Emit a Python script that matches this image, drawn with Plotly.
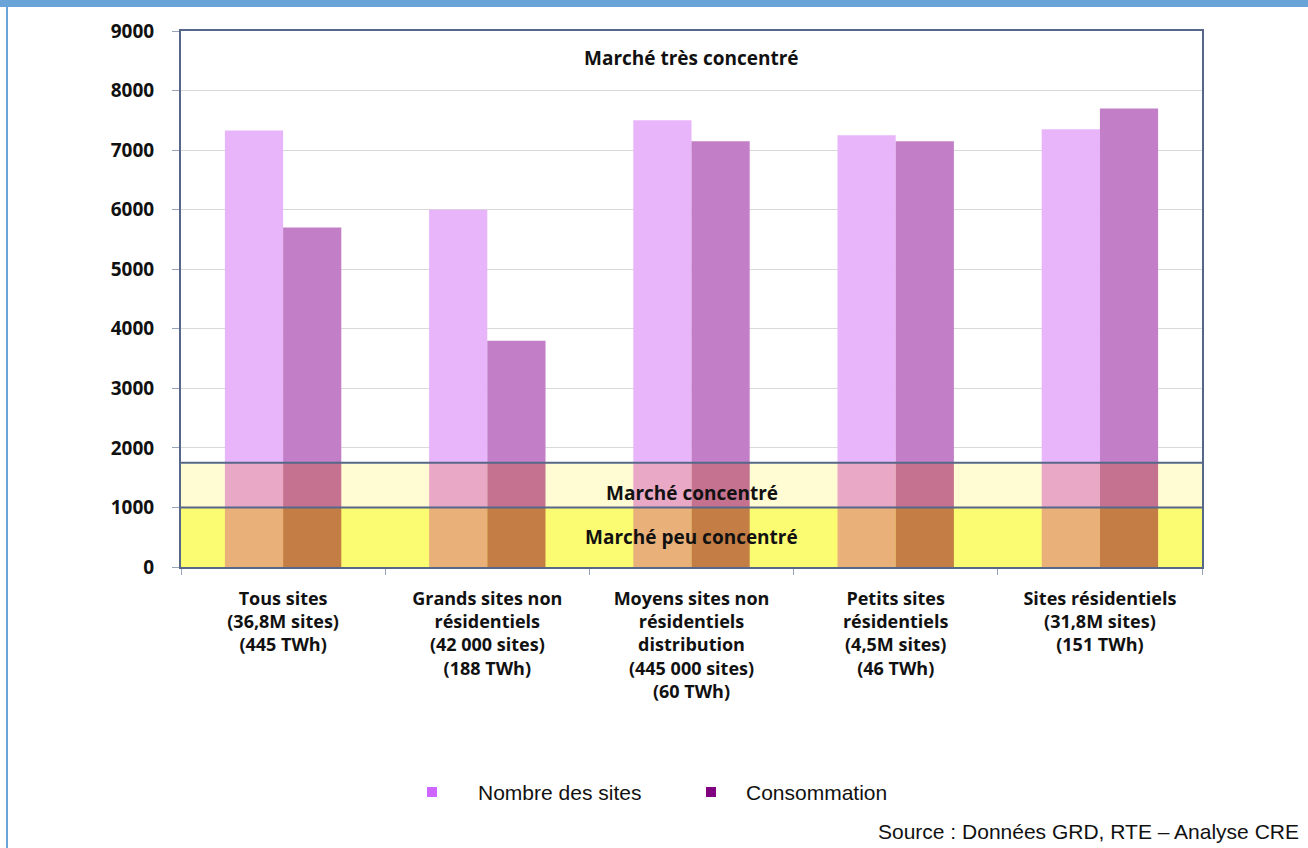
import plotly.graph_objects as go

# Segments de marché et indices HHI
categories = [
    "Tous sites<br>(36,8M sites)<br>(445 TWh)",
    "Grands sites non<br>résidentiels<br>(42 000 sites)<br>(188 TWh)",
    "Moyens sites non<br>résidentiels<br>distribution<br>(445 000 sites)<br>(60 TWh)",
    "Petits sites<br>résidentiels<br>(4,5M sites)<br>(46 TWh)",
    "Sites résidentiels<br>(31,8M sites)<br>(151 TWh)",
]
nombre_sites = [7330, 6000, 7500, 7250, 7350]
consommation = [5700, 3800, 7150, 7150, 7700]

# Seuils de concentration
seuil_peu = 1000
seuil_conc = 1750
y_ticks = [0, 1000, 2000, 3000, 4000, 5000, 6000, 7000, 8000, 9000]

FONT = "Open Sans"
TXT_FONT = "Liberation Sans"
AXIS_COL = "#56678a"

series = [
    ("Nombre des sites", nombre_sites, ["#e9b07a", "#e9a9c6", "#e8b4fa"], "#cc66ff"),
    ("Consommation", consommation, ["#c47e45", "#c47290", "#c27ec6"], "#800080"),
]

fig = go.Figure()

# Barres découpées selon les zones de concentration
for name, vals, cols, leg_col in series:
    low = [min(v, seuil_peu) for v in vals]
    mid = [max(min(v, seuil_conc) - seuil_peu, 0) for v in vals]
    top = [max(v - seuil_conc, 0) for v in vals]
    for seg, base, col in ((low, 0, cols[0]), (mid, seuil_peu, cols[1]), (top, seuil_conc, cols[2])):
        fig.add_trace(go.Bar(
            x=categories, y=seg, base=base, offsetgroup=name, name=name,
            marker=dict(color=col, line=dict(width=0)),
            showlegend=False, hoverinfo="skip",
        ))

# Zones de concentration
fig.add_shape(type="rect", xref="paper", yref="y", x0=0, x1=1, y0=0, y1=seuil_peu,
              fillcolor="#fcfc72", line=dict(width=0), layer="below")
fig.add_shape(type="rect", xref="paper", yref="y", x0=0, x1=1, y0=seuil_peu, y1=seuil_conc,
              fillcolor="#fffcd4", line=dict(width=0), layer="below")
for yv in (seuil_peu, seuil_conc):
    fig.add_shape(type="line", xref="paper", yref="y", x0=0, x1=1, y0=yv, y1=yv,
                  line=dict(color=AXIS_COL, width=2), layer="above")

# Bandeau bleu en haut et filet à gauche
fig.add_shape(type="rect", xref="paper", yref="paper", xsizemode="pixel", ysizemode="pixel",
              xanchor=0, yanchor=1, x0=-181, x1=1127, y0=24, y1=31,
              fillcolor="#6aa3d8", line=dict(width=0))
fig.add_shape(type="rect", xref="paper", yref="paper", xsizemode="pixel", ysizemode="pixel",
              xanchor=0, yanchor=1, x0=-175, x1=-173, y0=-820, y1=31,
              fillcolor="#6aa3d8", line=dict(width=0))

zone_font = dict(family=FONT, size=19, color="#111111", weight="bold")
for txt, yv in (("Marché très concentré", 8540), ("Marché concentré", 1240), ("Marché peu concentré", 500)):
    fig.add_annotation(text=txt, xref="paper", yref="y", x=0.5, y=yv,
                       showarrow=False, font=zone_font)

# Légende : carré de couleur puis libellé
txt_font = dict(family=TXT_FONT, size=21, color="#111111")
for (name, _, _, leg_col), (px_sq, px_txt) in zip(series, [(251, 295), (530, 563)]):
    fig.add_shape(type="rect", xref="paper", yref="paper", xsizemode="pixel", ysizemode="pixel",
                  xanchor=0, yanchor=0, x0=px_sq - 5, x1=px_sq + 5, y0=-230, y1=-220,
                  fillcolor=leg_col, line=dict(width=0))
    fig.add_annotation(text=name, xref="paper", yref="paper", x=px_txt / 1021, y=-225 / 536,
                       xanchor="left", yanchor="middle", showarrow=False, font=txt_font)

fig.add_annotation(text="Source : Données GRD, RTE – Analyse CRE", xref="paper", yref="paper",
                   x=1.097, y=-0.494, xanchor="right", yanchor="middle", showarrow=False,
                   font=txt_font)

fig.update_layout(
    width=1308, height=848,
    margin=dict(l=181, r=106, t=31, b=281),
    paper_bgcolor="white", plot_bgcolor="white",
    barmode="group", bargap=0.43, bargroupgap=0,
    showlegend=False,
    xaxis=dict(showline=True, linecolor=AXIS_COL, linewidth=2, mirror=True,
               ticks="outside", ticklen=6, tickcolor="#9aa4b8", tickson="boundaries",
               tickfont=dict(family=FONT, size=18, color="#111111", weight="bold"),
               ticklabelstandoff=14, showgrid=False, fixedrange=True),
    yaxis=dict(range=[0, 9000], tickvals=y_ticks, showline=True, linecolor=AXIS_COL, linewidth=2,
               mirror=True, ticks="outside", ticklen=7, tickcolor="#9aa4b8",
               showgrid=True, gridcolor="#d9d9d9", gridwidth=1, zeroline=False,
               tickfont=dict(family=FONT, size=19, color="#111111", weight="bold"),
               ticklabelstandoff=14, fixedrange=True),
)

fig.write_html("out.html")
